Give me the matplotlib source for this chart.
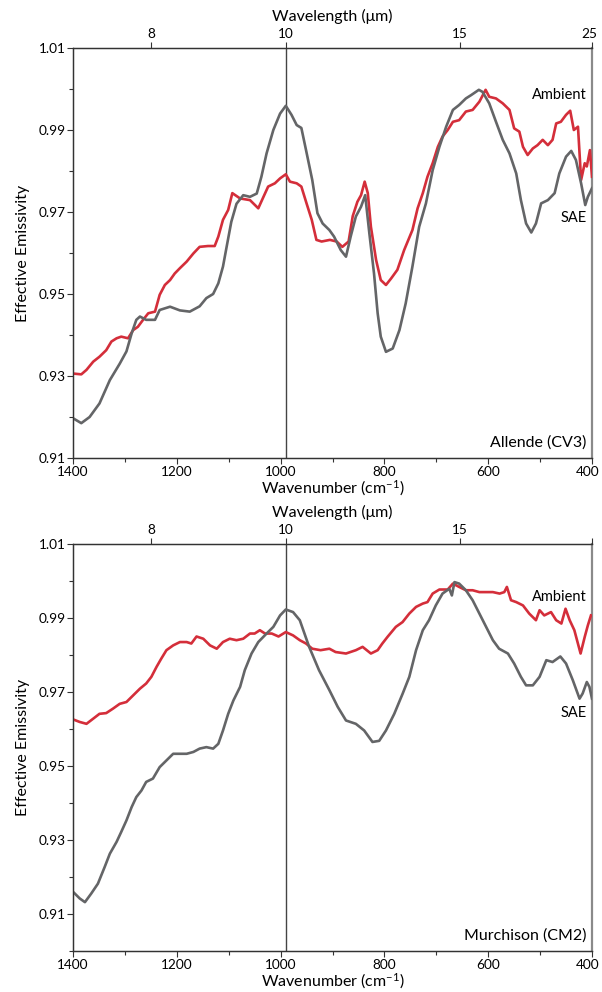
import matplotlib
matplotlib.use("Agg")
import matplotlib.pyplot as plt
from matplotlib.ticker import FixedLocator
from matplotlib.transforms import ScaledTranslation

plt.rcParams['font.family'] = ['Lato', 'DejaVu Sans']
plt.rcParams['mathtext.fontset'] = 'custom'
plt.rcParams['mathtext.rm'] = 'Lato'
plt.rcParams['mathtext.it'] = 'Lato:italic'

# ---------------- data ----------------
allende_sae_wn = [1400, 1384, 1368, 1349, 1329, 1310, 1297, 1287, 1278, 1271, 1259, 1242, 1233, 1213,
                  1194, 1175, 1156, 1143, 1130, 1120, 1111, 1104, 1095, 1085, 1072, 1059, 1046, 1037,
                  1027, 1014, 1001, 990, 979, 969, 960, 951, 939, 929, 919, 906, 897, 884, 874, 865,
                  855, 845, 837, 829, 820, 813, 807, 797, 784, 771, 759, 746, 733, 720, 707, 694, 681,
                  668, 656, 643, 633, 618, 611, 598, 585, 572, 559, 546, 537, 527, 517, 508, 498, 485,
                  472, 463, 450, 440, 431, 421, 413, 408, 400]
allende_sae = [0.9197, 0.9185, 0.9200, 0.9233, 0.9290, 0.9330, 0.9360, 0.9404, 0.9437, 0.9445, 0.9437,
               0.9437, 0.9461, 0.9469, 0.9460, 0.9457, 0.9470, 0.9490, 0.9500, 0.9526, 0.9567, 0.9615,
               0.9676, 0.9720, 0.9741, 0.9737, 0.9745, 0.9786, 0.9843, 0.9900, 0.9940, 0.9959, 0.9937,
               0.9912, 0.9905, 0.9851, 0.9778, 0.9697, 0.9672, 0.9656, 0.9640, 0.9607, 0.9591, 0.9640,
               0.9689, 0.9713, 0.9741, 0.9648, 0.9550, 0.9453, 0.9396, 0.9359, 0.9367, 0.9412, 0.9477,
               0.9567, 0.9664, 0.9721, 0.9802, 0.9859, 0.9908, 0.9949, 0.9961, 0.9977, 0.9985, 0.9998,
               0.9993, 0.9965, 0.9920, 0.9876, 0.9843, 0.9794, 0.9729, 0.9672, 0.9650, 0.9672, 0.9721,
               0.9729, 0.9746, 0.9794, 0.9835, 0.9849, 0.9827, 0.9770, 0.9717, 0.9737, 0.9758]

allende_amb_wn = [1400, 1384, 1374, 1361, 1349, 1336, 1326, 1316, 1307, 1294, 1284, 1275, 1265, 1255,
                  1242, 1233, 1223, 1213, 1204, 1194, 1181, 1168, 1156, 1140, 1127, 1120, 1111, 1101,
                  1093, 1078, 1059, 1043, 1033, 1024, 1011, 1001, 990, 982, 969, 960, 950, 940, 931,
                  921, 905, 892, 881, 869, 861, 852, 845, 838, 832, 826, 816, 807, 797, 787, 775, 762,
                  746, 736, 726, 717, 707, 697, 688, 678, 668, 656, 643, 630, 617, 605, 598, 585, 572,
                  559, 550, 540, 533, 524, 514, 505, 495, 485, 476, 469, 460, 450, 442, 435, 427, 421,
                  414, 410, 404, 400]
allende_amb = [0.9306, 0.9304, 0.9315, 0.9335, 0.9347, 0.9363, 0.9384, 0.9392, 0.9396, 0.9392, 0.9412,
               0.9420, 0.9437, 0.9453, 0.9457, 0.9498, 0.9522, 0.9534, 0.9550, 0.9563, 0.9579, 0.9599,
               0.9615, 0.9617, 0.9617, 0.9640, 0.9681, 0.9705, 0.9746, 0.9733, 0.9729, 0.9709, 0.9737,
               0.9762, 0.9770, 0.9782, 0.9792, 0.9774, 0.9770, 0.9762, 0.9721, 0.9681, 0.9632, 0.9628,
               0.9632, 0.9628, 0.9615, 0.9628, 0.9690, 0.9725, 0.9741, 0.9774, 0.9746, 0.9664, 0.9583,
               0.9534, 0.9522, 0.9538, 0.9559, 0.9607, 0.9656, 0.9709, 0.9746, 0.9786, 0.9819, 0.9859,
               0.9884, 0.9900, 0.9920, 0.9924, 0.9945, 0.9949, 0.9969, 0.9998, 0.9981, 0.9977, 0.9965,
               0.9949, 0.9904, 0.9896, 0.9859, 0.9839, 0.9855, 0.9863, 0.9876, 0.9863, 0.9876, 0.9916,
               0.9920, 0.9937, 0.9947, 0.9900, 0.9908, 0.9778, 0.9819, 0.9811, 0.9851, 0.9786]

murch_sae_wn = [1400, 1387, 1377, 1365, 1352, 1339, 1329, 1316, 1307, 1297, 1287, 1278, 1268, 1259,
                1246, 1233, 1220, 1207, 1194, 1181, 1168, 1156, 1143, 1130, 1120, 1111, 1101, 1091,
                1078, 1069, 1056, 1043, 1027, 1014, 1001, 990, 976, 963, 945, 926, 906, 890, 874, 855,
                839, 823, 810, 797, 781, 765, 752, 739, 726, 714, 701, 688, 675, 670, 665, 656, 643,
                630, 617, 604, 591, 579, 562, 550, 537, 527, 514, 501, 488, 476, 461, 450, 437, 424,
                418, 410, 405, 400]
murch_sae = [0.9160, 0.9142, 0.9132, 0.9155, 0.9182, 0.9227, 0.9263, 0.9295, 0.9322, 0.9353, 0.9389,
             0.9416, 0.9434, 0.9457, 0.9466, 0.9497, 0.9515, 0.9533, 0.9533, 0.9533, 0.9538, 0.9547,
             0.9551, 0.9547, 0.9560, 0.9596, 0.9641, 0.9677, 0.9714, 0.9759, 0.9804, 0.9835, 0.9858,
             0.9876, 0.9907, 0.9923, 0.9916, 0.9894, 0.9822, 0.9759, 0.9705, 0.9660, 0.9623, 0.9614,
             0.9596, 0.9565, 0.9568, 0.9596, 0.9641, 0.9695, 0.9741, 0.9813, 0.9867, 0.9894, 0.9934,
             0.9966, 0.9979, 0.9961, 0.9997, 0.9993, 0.9975, 0.9948, 0.9912, 0.9876, 0.9840, 0.9817,
             0.9804, 0.9777, 0.9741, 0.9718, 0.9718, 0.9741, 0.9786, 0.9781, 0.9796, 0.9777, 0.9732,
             0.9682, 0.9696, 0.9727, 0.9714, 0.9682]

murch_amb_wn = [1400, 1387, 1374, 1361, 1349, 1336, 1323, 1310, 1297, 1284, 1271, 1259, 1249, 1239,
                1230, 1220, 1207, 1194, 1181, 1172, 1162, 1149, 1136, 1123, 1111, 1098, 1085, 1072,
                1059, 1050, 1040, 1030, 1017, 1004, 990, 976, 963, 951, 939, 923, 906, 894, 874, 855,
                842, 826, 813, 804, 794, 778, 765, 752, 739, 726, 717, 707, 694, 678, 668, 656, 643,
                630, 617, 604, 591, 578, 569, 564, 556, 546, 533, 521, 508, 501, 492, 479, 469, 459,
                451, 443, 434, 422, 414, 408, 402]
murch_amb = [0.9626, 0.9619, 0.9614, 0.9628, 0.9641, 0.9643, 0.9655, 0.9668, 0.9673, 0.9691, 0.9709,
             0.9723, 0.9741, 0.9768, 0.9790, 0.9813, 0.9826, 0.9835, 0.9835, 0.9831, 0.9850, 0.9844,
             0.9826, 0.9817, 0.9835, 0.9844, 0.9840, 0.9844, 0.9858, 0.9858, 0.9867, 0.9858, 0.9858,
             0.9850, 0.9862, 0.9853, 0.9840, 0.9831, 0.9817, 0.9813, 0.9817, 0.9808, 0.9804, 0.9813,
             0.9822, 0.9804, 0.9813, 0.9831, 0.9849, 0.9876, 0.9889, 0.9912, 0.9930, 0.9939, 0.9943,
             0.9966, 0.9977, 0.9977, 0.9993, 0.9984, 0.9975, 0.9975, 0.9970, 0.9970, 0.9970, 0.9966,
             0.9970, 0.9984, 0.9948, 0.9943, 0.9934, 0.9912, 0.9894, 0.9921, 0.9907, 0.9916, 0.9894,
             0.9885, 0.9925, 0.9894, 0.9867, 0.9804, 0.9849, 0.9880, 0.9907]

bottom_ticks = [1400, 1200, 1000, 800, 600, 400]
bottom_minor = [1300, 1100, 900, 700, 500]
top_tick_wn = [1250, 990, 654, 400]
top_tick_labels_1 = ['8', '10', '15', '25']
top_tick_labels_2 = ['8', '10', '15', '']
vline_wn = 990
y_major = [0.91, 0.93, 0.95, 0.97, 0.99, 1.01]
y_minor = [0.90, 0.92, 0.94, 0.96, 0.98, 1.00]

RED = '#d42e3a'
GRAY = '#646567'
SPINE = '#333333'

fig = plt.figure(figsize=(6.02, 9.92), dpi=100)
W, H = 602.0, 992.0
L, R = 73, 592


def panel(rect_px, ylim, amb_x, amb_y, sae_x, sae_y, sample, top_labels, amb_y_pos, sae_y_pos):
    top, bot = rect_px
    ax = fig.add_axes([L / W, 1 - bot / H, (R - L) / W, (bot - top) / H])
    ax.plot(amb_x, amb_y, color=RED, lw=1.9, solid_joinstyle='round', zorder=3)
    ax.plot(sae_x, sae_y, color=GRAY, lw=1.9, solid_joinstyle='round', zorder=4)
    ax.axvline(vline_wn, color='#444444', lw=1.0, zorder=2)
    ax.set_xlim(1400, 400)
    ax.set_ylim(*ylim)
    ax.set_xticks(bottom_ticks)
    ax.set_xticklabels([str(t) for t in bottom_ticks])
    ax.xaxis.set_minor_locator(FixedLocator(bottom_minor))
    ax.set_yticks(y_major)
    ax.set_yticklabels(['%.2f' % v for v in y_major])
    ax.yaxis.set_minor_locator(FixedLocator([v for v in y_minor if ylim[0] <= v <= ylim[1]]))
    ax.tick_params(axis='both', which='major', direction='out', length=4, width=0.8,
                   color=SPINE, labelsize=9.8, pad=1.5)
    ax.tick_params(axis='both', which='minor', direction='out', length=3, width=0.8, color=SPINE)
    for s in ['left', 'bottom', 'top']:
        ax.spines[s].set_color(SPINE)
        ax.spines[s].set_linewidth(0.9)
    ax.spines['right'].set_color('#8a8a8a')
    ax.spines['right'].set_linewidth(1.6)
    ax.set_xlabel('Wavenumber (cm$^{-1}$)', fontsize=11.5, labelpad=1)
    ax.set_ylabel('Effective Emissivity', fontsize=11.5, labelpad=6)
    for lbl in ax.get_xticklabels():
        if lbl.get_text() == '400':
            lbl.set_transform(lbl.get_transform() + ScaledTranslation(-3 / 72, 0, fig.dpi_scale_trans))

    axt = ax.twiny()
    axt.set_xlim(ax.get_xlim())
    axt.set_xticks(top_tick_wn)
    axt.set_xticklabels(top_labels)
    axt.tick_params(axis='x', which='major', direction='out', length=4, width=0.8,
                    color=SPINE, labelsize=9.8, pad=1.5)
    for s in ['left', 'bottom', 'top']:
        axt.spines[s].set_color(SPINE)
        axt.spines[s].set_linewidth(0.9)
    axt.spines['right'].set_visible(False)
    axt.set_xlabel('Wavelength (\u03bcm)', fontsize=11.5, labelpad=5)
    for lbl in axt.get_xticklabels():
        if lbl.get_text() == '25':
            lbl.set_transform(lbl.get_transform() + ScaledTranslation(-2 / 72, 0, fig.dpi_scale_trans))

    ax.text(0.99, amb_y_pos, 'Ambient', transform=ax.transAxes, ha='right', va='center', fontsize=10.5)
    ax.text(0.99, sae_y_pos, 'SAE', transform=ax.transAxes, ha='right', va='center', fontsize=10.5)
    ax.text(0.99, 0.038, sample, transform=ax.transAxes, ha='right', va='center', fontsize=11.5)
    return ax


panel((48, 458), (0.91, 1.01), allende_amb_wn, allende_amb, allende_sae_wn, allende_sae,
      'Allende (CV3)', top_tick_labels_1, 0.885, 0.585)
panel((544, 951), (0.90, 1.01), murch_amb_wn, murch_amb, murch_sae_wn, murch_sae,
      'Murchison (CM2)', top_tick_labels_2, 0.870, 0.585)

fig.savefig('out.png', dpi=100)
